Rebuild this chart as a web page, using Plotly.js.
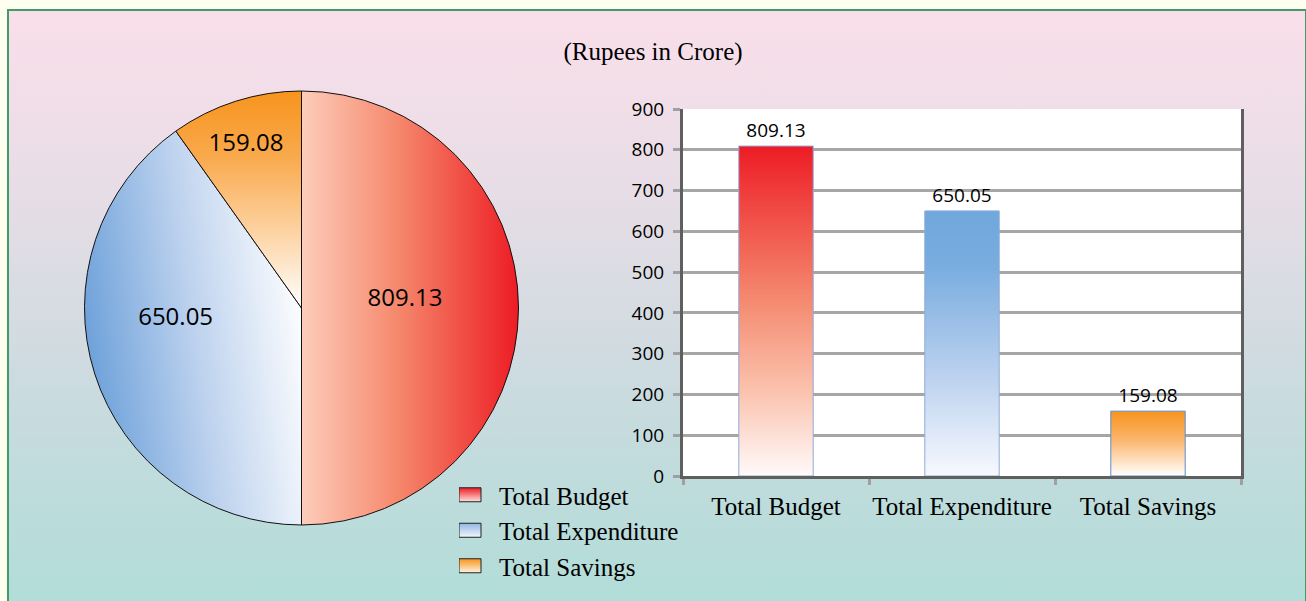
<!DOCTYPE html>
<html>
<head>
<meta charset="utf-8">
<script src="https://cdn.plot.ly/plotly-3.0.1.min.js"></script>
<style>
  html, body { margin: 0; padding: 0; background: #fffff0; width: 1306px; height: 601px; overflow: hidden; }
  #frame { position: absolute; left: 7px; top: 9px; width: 1296px; height: 600px;
           border: 2px solid #3f9a6c; border-bottom: none;
           background: linear-gradient(to bottom, #fadfea 0%, #e7dde6 30%, #c9dbdf 65%, #b0ddd8 100%); }
  #chart { position: absolute; left: 0; top: 0; width: 1306px; height: 601px; }
</style>
</head>
<body>
<div id="frame"></div>
<div id="chart"></div>
<script>
const categories = ['Total Budget', 'Total Expenditure', 'Total Savings'];
const values = [809.13, 650.05, 159.08];
const yTicks = [0, 100, 200, 300, 400, 500, 600, 700, 800, 900];
const titleText = '(Rupees in Crore)';

const solidColors = ['#f26b50', '#a9c6ea', '#f9b060'];
const serif = 'Liberation Serif, Times New Roman, serif';
const sans = 'Open Sans, Lato, sans-serif';

const pie = {
  type: 'pie',
  labels: categories,
  values: values,
  sort: false,
  direction: 'clockwise',
  rotation: 0,
  domain: { x: [84.5 / 1306, 518.5 / 1306], y: [1 - 525 / 601, 1 - 91 / 601] },
  marker: { colors: solidColors, line: { color: '#111111', width: 1 } },
  texttemplate: '%{value:.2f}',
  textposition: 'inside',
  insidetextorientation: 'horizontal',
  textfont: { family: sans, size: 24, color: '#000000' },
  hoverinfo: 'none',
  showlegend: true
};

const bar = {
  type: 'bar',
  x: categories,
  y: values,
  width: 0.4,
  marker: { color: solidColors, line: { color: '#8eaadb', width: 1 } },
  text: values.map(v => v.toFixed(2)),
  textposition: 'outside',
  textfont: { family: sans, size: 19, color: '#000000' },
  cliponaxis: false,
  hoverinfo: 'none',
  showlegend: false,
  xaxis: 'x',
  yaxis: 'y'
};

const layout = {
  width: 1306,
  height: 601,
  margin: { l: 0, r: 0, t: 0, b: 0 },
  paper_bgcolor: 'rgba(0,0,0,0)',
  plot_bgcolor: '#ffffff',
  title: {
    text: titleText,
    x: 0.5, xref: 'paper', xanchor: 'center',
    y: 1 - 51 / 601, yref: 'paper', yanchor: 'middle',
    font: { family: serif, size: 25, color: '#000000' }
  },
  xaxis: {
    domain: [683 / 1306, 1241 / 1306],
    type: 'category',
    tickangle: 0,
    showline: true, linecolor: '#5f5f5f', linewidth: 3,
    ticks: 'outside', tickson: 'boundaries', ticklen: 6, tickwidth: 3, tickcolor: '#a0a0a0',
    showgrid: false,
    tickfont: { family: serif, size: 25, color: '#000000' },
    ticklabelstandoff: 6,
    fixedrange: true
  },
  yaxis: {
    domain: [1 - 476 / 601, 1 - 109 / 601],
    range: [0, 900],
    tickvals: yTicks,
    ticktext: yTicks.map(String),
    showline: true, linecolor: '#5f5f5f', linewidth: 3, mirror: true,
    ticks: 'outside', ticklen: 7, tickwidth: 3, tickcolor: '#a0a0a0',
    showgrid: true, gridcolor: '#a6a6a6', gridwidth: 3,
    zeroline: false,
    tickfont: { family: sans, size: 19, color: '#000000' },
    ticklabelstandoff: 5,
    fixedrange: true
  },
  legend: {
    x: 459 / 1306, xanchor: 'left',
    y: 1 - 472 / 601, yanchor: 'top',
    bgcolor: 'rgba(0,0,0,0)',
    font: { family: serif, size: 25, color: '#000000' },
    traceorder: 'normal'
  },
  showlegend: true
};

// small nudges of the pie's inside labels toward the reference placement
const pieLabelShift = [[-5, -12], [-20, -26], [-5, -8]];

function addGradients(gd) {
  const svg = gd.querySelector('svg.main-svg');
  const ns = 'http://www.w3.org/2000/svg';
  let defs = svg.querySelector('defs');
  if (!defs) { defs = document.createElementNS(ns, 'defs'); svg.insertBefore(defs, svg.firstChild); }
  function grad(id, x1, y1, x2, y2, stops) {
    const g = document.createElementNS(ns, 'linearGradient');
    g.setAttribute('id', id);
    g.setAttribute('x1', x1); g.setAttribute('y1', y1);
    g.setAttribute('x2', x2); g.setAttribute('y2', y2);
    stops.forEach(s => {
      const st = document.createElementNS(ns, 'stop');
      st.setAttribute('offset', s[0]);
      st.setAttribute('stop-color', s[1]);
      g.appendChild(st);
    });
    defs.appendChild(g);
  }
  grad('pg0', 0, 0, 1, 0, [[0, '#fdcdbb'], [0.45, '#f5876b'], [1, '#ed1c24']]);
  grad('pg1', 0, 0.6, 1, 0.35, [[0, '#6a9fd9'], [0.5, '#bdd2ee'], [1, '#ffffff']]);
  grad('pg2', 0, 0, 0, 1, [[0, '#f7941d'], [0.3, '#f9a94c'], [0.65, '#fdd3a3'], [1, '#ffffff']]);
  grad('bg0', 0, 0, 0, 1, [[0, '#ed1c24'], [0.45, '#f4866c'], [0.75, '#fbc4b0'], [1, '#fffafa']]);
  grad('bg1', 0, 0, 0, 1, [[0, '#6fa8dc'], [0.2, '#78acdf'], [0.6, '#b8cfee'], [1, '#f7f9fe']]);
  grad('bg2', 0, 0, 0, 1, [[0, '#f7941d'], [0.45, '#fbb66e'], [1, '#ffffff']]);
  grad('lg0', 0, 0, 0, 1, [[0, '#ed1c24'], [1, '#fde4dc']]);
  grad('lg1', 0, 0, 0, 1, [[0, '#8fb5e3'], [1, '#f4f7fd']]);
  grad('lg2', 0, 0, 0, 1, [[0, '#f7941d'], [1, '#fff2e0']]);

  gd.querySelectorAll('.pielayer .slice').forEach((s, i) => {
    const p = s.querySelector('path.surface');
    if (p) p.style.fill = 'url(#pg' + i + ')';
    const t = s.querySelector('g.slicetext');
    if (t && pieLabelShift[i]) {
      const tr = t.getAttribute('transform') || '';
      t.setAttribute('transform', 'translate(' + pieLabelShift[i][0] + ',' + pieLabelShift[i][1] + ') ' + tr);
    }
  });
  gd.querySelectorAll('.barlayer .point path').forEach((p, i) => {
    p.style.fill = 'url(#bg' + i + ')';
    if (i === 2) p.style.stroke = '#5b8fd0';
  });
  gd.querySelectorAll('.legend .traces').forEach((t, i) => {
    const p = t.querySelector('.legendpoints path');
    if (p) {
      p.setAttribute('d', 'M2,7H-20V-7H2Z');
      p.style.fill = 'url(#lg' + i + ')';
      p.style.stroke = '#222222';
      p.style.strokeWidth = '1px';
    }
  });
}

Plotly.newPlot('chart', [pie, bar], layout, { staticPlot: true, displayModeBar: false })
  .then(addGradients);
</script>
</body>
</html>
